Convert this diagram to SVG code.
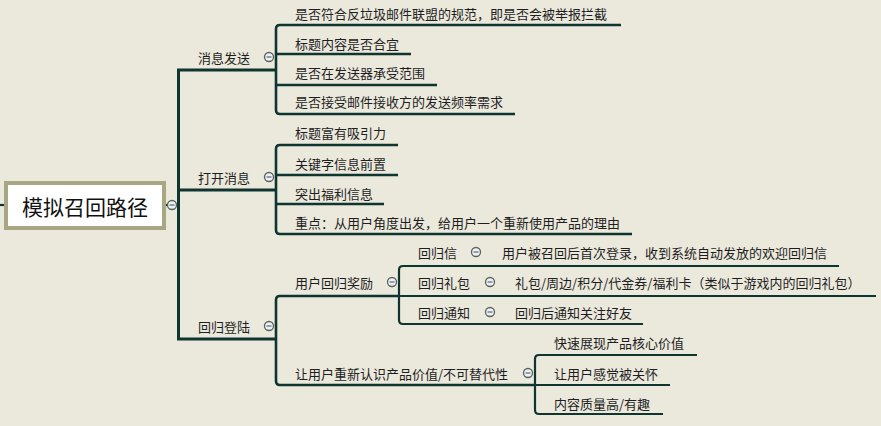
<svg xmlns="http://www.w3.org/2000/svg" width="881" height="426" viewBox="0 0 881 426">
<style>
.t{font-family:"Noto Sans CJK SC","Noto Sans",sans-serif;font-size:13px;fill:#1e1e1e;dominant-baseline:central}
.root{font-family:"Noto Sans CJK SC","Noto Sans",sans-serif;font-size:21px;fill:#111;dominant-baseline:central;text-anchor:middle}
.l1{fill:none;stroke:#0f3531;stroke-width:3}
.l2{fill:none;stroke:#0f3531;stroke-width:2.6}
.l3{fill:none;stroke:#0f3531;stroke-width:2.2}
.cc{fill:#eef0ee;stroke:#56625e;stroke-width:1.3}
.cm{stroke:#5a6690;stroke-width:1.2}
</style>
<defs>
<g id="col"><circle class="cc" cx="0" cy="0" r="4.5"/><line class="cm" x1="-2.5" y1="0" x2="2.5" y2="0"/></g>
</defs>
<rect width="881" height="426" fill="#ebe8dc"/>
<g id="connectors">
<path class="l3" d="M0 205 H6"/>
<path class="l3" d="M166 205 H178"/>
<path class="l1" d="M276 70 H178.5 V339 H276 M178.5 190 H276"/>
<path class="l2" d="M621 25 H280 Q276 25 276 29 V110 Q276 114 280 114 H515 M276 54 H411 M276 85 H437"/>
<path class="l2" d="M398 145 H280 Q276 145 276 149 V230 Q276 234 280 234 H632 M276 175 H398 M276 204 H384"/>
<path class="l2" d="M399 296 H280 Q276 296 276 300 V381 Q276 385 280 385 H535"/>
<path class="l3" d="M839 266 H403 Q399 266 399 270 V320 Q399 324 403 324 H643 M399 296 H876"/>
<path class="l3" d="M697 355 H539 Q535 355 535 359 V410 Q535 414 539 414 H663 M535 385 H670"/>
</g>
<g id="root">
<rect x="6" y="183" width="158" height="45" fill="#ffffff" stroke="#a9a684" stroke-width="4"/>
<text class="root" x="85" y="206">模拟召回路径</text>
<use href="#col" x="172" y="205"/>
</g>
<g id="n-xxfs"><text class="t" x="198" y="57">消息发送</text><use href="#col" x="269" y="57"/></g>
<g id="n-xxfs-1"><text class="t" x="295" y="13">是否符合反垃圾邮件联盟的规范，即是否会被举报拦截</text></g>
<g id="n-xxfs-2"><text class="t" x="295" y="43">标题内容是否合宜</text></g>
<g id="n-xxfs-3"><text class="t" x="295" y="72">是否在发送器承受范围</text></g>
<g id="n-xxfs-4"><text class="t" x="295" y="101">是否接受邮件接收方的发送频率需求</text></g>
<g id="n-dkxx"><text class="t" x="198" y="177">打开消息</text><use href="#col" x="269" y="177"/></g>
<g id="n-dkxx-1"><text class="t" x="295" y="132">标题富有吸引力</text></g>
<g id="n-dkxx-2"><text class="t" x="295" y="163">关键字信息前置</text></g>
<g id="n-dkxx-3"><text class="t" x="295" y="193">突出福利信息</text></g>
<g id="n-dkxx-4"><text class="t" x="295" y="222">重点：从用户角度出发，给用户一个重新使用产品的理由</text></g>
<g id="n-hgdl"><text class="t" x="198" y="326">回归登陆</text><use href="#col" x="269" y="326"/></g>
<g id="n-yhhgjl"><text class="t" x="295" y="282">用户回归奖励</text><use href="#col" x="392" y="282"/></g>
<g id="n-hgx"><text class="t" x="418" y="252">回归信</text><use href="#col" x="476" y="252"/></g>
<g id="n-hgx-1"><text class="t" x="502" y="252">用户被召回后首次登录，收到系统自动发放的欢迎回归信</text></g>
<g id="n-hglb"><text class="t" x="418" y="282">回归礼包</text><use href="#col" x="490" y="282"/></g>
<g id="n-hglb-1"><text class="t" x="515" y="282">礼包/周边/积分/代金券/福利卡（类似于游戏内的回归礼包）</text></g>
<g id="n-hgtz"><text class="t" x="418" y="312">回归通知</text><use href="#col" x="490" y="312"/></g>
<g id="n-hgtz-1"><text class="t" x="515" y="312">回归后通知关注好友</text></g>
<g id="n-rzjz"><text class="t" x="295" y="373">让用户重新认识产品价值/不可替代性</text><use href="#col" x="528" y="373"/></g>
<g id="n-rzjz-1"><text class="t" x="554" y="342">快速展现产品核心价值</text></g>
<g id="n-rzjz-2"><text class="t" x="554" y="373">让用户感觉被关怀</text></g>
<g id="n-rzjz-3"><text class="t" x="554" y="403">内容质量高/有趣</text></g>
</svg>
